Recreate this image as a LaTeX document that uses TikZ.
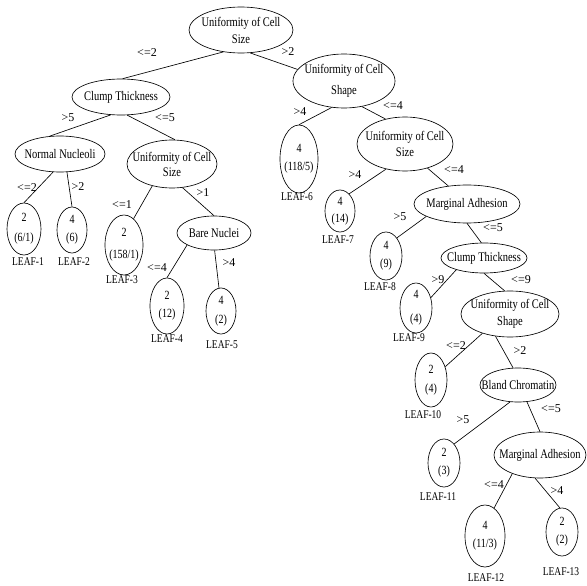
\documentclass[tikz,border=0pt]{standalone}
\usepackage{fontspec}
\usepackage{graphicx}
\setmainfont{Liberation Serif}
\usetikzlibrary{shapes.geometric}
\newcommand{\vt}[1]{\scalebox{1}[1.25]{#1}}
\begin{document}
\begin{tikzpicture}[x=1pt,y=-1pt]
\tikzset{
  inode/.style={ellipse, draw, line width=0.65pt, inner xsep=-10pt, inner ysep=-3pt, align=center, font=\fontsize{10.5}{14}\selectfont},
  leafnode/.style={ellipse, draw, line width=0.65pt, inner sep=-4pt, align=center, font=\fontsize{10}{14}\selectfont},
  leaflabel/.style={font=\fontsize{9.5}{11}\selectfont, inner sep=0pt},
  elabel/.style={font=\fontsize{12}{14}\selectfont, inner sep=0pt},
  edge/.style={line width=0.65pt},
  sz/.style 2 args={minimum width=#1pt, minimum height=#2pt}
}
\useasboundingbox (0,0) rectangle (587,586);
% internal nodes
\node[inode, sz={104}{46}] (root) at (241,30) {\vt{Uniformity of Cell}\\[3pt]\vt{Size}};
\node[inode, sz={98}{36}] (clump) at (121,97) {\vt{Clump Thickness}};
\node[inode, sz={102}{54}] (ucsA) at (344,81) {\vt{Uniformity of Cell}\\[7pt]\vt{Shape}};
\node[inode, sz={90}{36}] (nn) at (60,154) {\vt{Normal Nucleoli}};
\node[inode, sz={90}{48}] (ucsL) at (172,164) {\vt{Uniformity of Cell}\\[1pt]\vt{Size}};
\node[inode, sz={74}{34}] (bn) at (214,233) {\vt{Bare Nuclei}};
\node[inode, sz={96}{54}] (ucsB) at (405,144) {\vt{Uniformity of Cell}\\[2pt]\vt{Size}};
\node[inode, sz={106}{38}] (ma1) at (467,204) {\vt{Marginal Adhesion}};
\node[inode, sz={86}{30}] (ct2) at (484,258) {\vt{Clump Thickness}};
\node[inode, sz={98}{46}] (ucsC) at (510,314) {\vt{Uniformity of Cell}\\[3pt]\vt{Shape}};
\node[inode, sz={76}{34}] (bc) at (518,385) {\vt{Bland Chromatin}};
\node[inode, sz={92}{46}] (ma2) at (540,455) {\vt{Marginal Adhesion}};
% leaves
\node[leafnode, sz={34}{52}] (leaf1) at (24,229) {\vt{2}\\[6pt]\vt{(6/1)}};
\node[leafnode, sz={30}{46}] (leaf2) at (72,230) {\vt{4}\\[4pt]\vt{(6)}};
\node[leafnode, sz={38}{60}] (leaf3) at (124,245) {\vt{2}\\[8pt]\vt{(158/1)}};
\node[leafnode, sz={34}{56}] (leaf4) at (167,306) {\vt{2}\\[4pt]\vt{(12)}};
\node[leafnode, sz={30}{46}] (leaf5) at (221,311) {\vt{4}\\[5pt]\vt{(2)}};
\node[leafnode, sz={38}{68}] (leaf6) at (299,159) {\vt{4}\\[4pt]\vt{(118/5)}};
\node[leafnode, sz={30}{42}] (leaf7) at (340,211) {\vt{4}\\[3pt]\vt{(14)}};
\node[leafnode, sz={32}{48}] (leaf8) at (386,256) {\vt{4}\\[4pt]\vt{(9)}};
\node[leafnode, sz={32}{50}] (leaf9) at (416,308) {\vt{4}\\[10pt]\vt{(4)}};
\node[leafnode, sz={32}{54}] (leaf10) at (431,380) {\vt{2}\\[5pt]\vt{(4)}};
\node[leafnode, sz={32}{48}] (leaf11) at (444,463) {\vt{2}\\[4pt]\vt{(3)}};
\node[leafnode, sz={40}{62}] (leaf12) at (485,536) {\vt{4}\\[4pt]\vt{(11/3)}};
\node[leafnode, sz={32}{48}] (leaf13) at (562,532) {\vt{2}\\[4pt]\vt{(2)}};
% leaf labels
\node[leaflabel] (n1) at (28,262) {\vt{LEAF-1}};
\node[leaflabel] (n2) at (74,262) {\vt{LEAF-2}};
\node[leaflabel] (n3) at (122,280) {\vt{LEAF-3}};
\node[leaflabel] (n4) at (167,339) {\vt{LEAF-4}};
\node[leaflabel] (n5) at (222,345) {\vt{LEAF-5}};
\node[leaflabel] (n6) at (297,197) {\vt{LEAF-6}};
\node[leaflabel] (n7) at (338,240) {\vt{LEAF-7}};
\node[leaflabel] (n8) at (380,287) {\vt{LEAF-8}};
\node[leaflabel] (n9) at (409,338) {\vt{LEAF-9}};
\node[leaflabel] (n10) at (423,415) {\vt{LEAF-10}};
\node[leaflabel] (n11) at (438,497) {\vt{LEAF-11}};
\node[leaflabel] (n12) at (486,578) {\vt{LEAF-12}};
\node[leaflabel] (n13) at (561,572) {\vt{LEAF-13}};
% connectors
\draw[edge] (root.231) -- (clump.85);
\draw[edge] (root.292) -- (ucsA.166);
\draw[edge] (clump.240) -- (nn.120);
\draw[edge] (clump.289) -- (ucsL.83);
\draw[edge] (nn.249) -- (leaf1.north);
\draw[edge] (nn.291) -- (leaf2.north);
\draw[edge] (ucsL.228) -- (leaf3.70);
\draw[edge] (ucsL.294) -- (bn.north);
\draw[edge] (bn.204) -- (leaf4.north);
\draw[edge] (bn.272) -- (leaf5.95);
\draw[edge] (ucsA.245) -- (leaf6.north);
\draw[edge] (ucsA.305) -- (ucsB.128);
\draw[edge] (ucsB.233) -- (leaf7.62);
\draw[edge] (ucsB.313) -- (ma1.136);
\draw[edge] (ma1.197) -- (leaf8.59);
\draw[edge] (ma1.south) -- (ct2.100);
\draw[edge] (ct2.203) -- (leaf9.35);
\draw[edge] (ct2.south) -- (ucsC.103);
\draw[edge] (ucsC.215) -- (leaf10.43);
\draw[edge] (ucsC.237) -- (bc.106);
\draw[edge] (bc.245) -- (leaf11.62);
\draw[edge] (bc.298) -- (ma2.north);
\draw[edge] (ma2.214) -- (leaf12.72);
\draw[edge] (ma2.258) -- (leaf13.95);
% edge labels
\node[elabel] (e1) at (147,53) {<=2};
\node[elabel] (e2) at (288,52) {>2};
\node[elabel] (e3) at (68,118) {>5};
\node[elabel] (e4) at (165,118) {<=5};
\node[elabel] (e5) at (27,188) {<=2};
\node[elabel] (e6) at (78,187) {>2};
\node[elabel] (e7) at (122,205) {<=1};
\node[elabel] (e8) at (203,193) {>1};
\node[elabel] (e9) at (157,268) {<=4};
\node[elabel] (e10) at (229,263) {>4};
\node[elabel] (e11) at (300,112) {>4};
\node[elabel] (e12) at (393,106) {<=4};
\node[elabel] (e13) at (355,175) {>4};
\node[elabel] (e14) at (454,170) {<=4};
\node[elabel] (e15) at (400,217) {>5};
\node[elabel] (e16) at (493,228) {<=5};
\node[elabel] (e17) at (438,280) {>9};
\node[elabel] (e18) at (521,280) {<=9};
\node[elabel] (e19) at (456,346) {<=2};
\node[elabel] (e20) at (520,351) {>2};
\node[elabel] (e21) at (463,420) {>5};
\node[elabel] (e22) at (551,409) {<=5};
\node[elabel] (e23) at (494,485) {<=4};
\node[elabel] (e24) at (557,491) {>4};
\end{tikzpicture}
\end{document}
